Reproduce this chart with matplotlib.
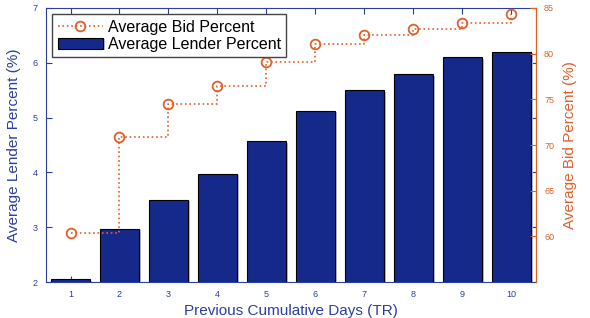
import matplotlib
matplotlib.use('Agg')
import matplotlib.pyplot as plt
from matplotlib import patheffects

plt.rcParams['font.family'] = ['Liberation Sans', 'DejaVu Sans']

# data
days = [1, 2, 3, 4, 5, 6, 7, 8, 9, 10]
lender_pct = [2.05, 2.97, 3.50, 3.98, 4.57, 5.12, 5.50, 5.79, 6.10, 6.20]
bid_pct = [60.4, 70.9, 74.5, 76.5, 79.1, 81.1, 82.0, 82.7, 83.4, 84.3]

blue = '#2b3f9e'
navy = '#15298a'
orange = '#e0602a'

fig = plt.figure(figsize=(5.9, 3.18), dpi=100)
ax = fig.add_axes([0.078, 0.113, 0.830, 0.862])
ax2 = ax.twinx()

bars = ax.bar(days, lender_pct, width=0.8, color=navy, edgecolor='black',
              linewidth=0.8, label='Average Lender Percent', zorder=2)
for b in bars:
    b.set_path_effects([patheffects.SimplePatchShadow(offset=(1.5, -1), shadow_rgbFace='#bbbbbb', alpha=1),
                        patheffects.Normal()])

ax2.plot(days, bid_pct, drawstyle='steps-post', linestyle=':', color=orange, lw=1.2,
         marker='o', markersize=7, markerfacecolor='none', markeredgewidth=1.3,
         label='Average Bid Percent')

ax.set_xlim(0.5, 10.5)
ax.set_ylim(2, 7)
ax.set_yticks([2, 3, 4, 5, 6, 7])
ax.set_xticks(days)
ax2.set_ylim(55, 85)
ax2.set_yticks([60, 65, 70, 75, 80, 85])

ax.tick_params(axis='both', direction='in', labelsize=6.5, colors=blue, length=4,
               top=True, right=True, pad=6)
ax.tick_params(axis='y', labelright=False)
ax2.tick_params(axis='y', direction='in', labelsize=6.5, colors=orange, length=4, pad=6)

for s in ['left', 'top', 'bottom']:
    ax.spines[s].set_color(blue)
ax2.spines['right'].set_color(orange)
for s in ['left', 'top', 'bottom']:
    ax2.spines[s].set_visible(False)

ax.set_xlabel('Previous Cumulative Days (TR)', color=blue, fontsize=11, labelpad=3)
ax.set_ylabel('Average Lender Percent (%)', color=blue, fontsize=11, labelpad=8)
ax2.set_ylabel('Average Bid Percent (%)', color=orange, fontsize=11, labelpad=6)

h1, l1 = ax2.get_legend_handles_labels()
h0, l0 = ax.get_legend_handles_labels()
leg = ax2.legend(h1 + h0, l1 + l0, loc='upper left', fontsize=11.5, fancybox=False,
                 edgecolor='#444444', framealpha=1, borderaxespad=0.4,
                 handlelength=2.8, labelspacing=0.12, borderpad=0.35, handletextpad=0.3)
leg.get_frame().set_linewidth(1)

fig.savefig('out.png', dpi=100)
